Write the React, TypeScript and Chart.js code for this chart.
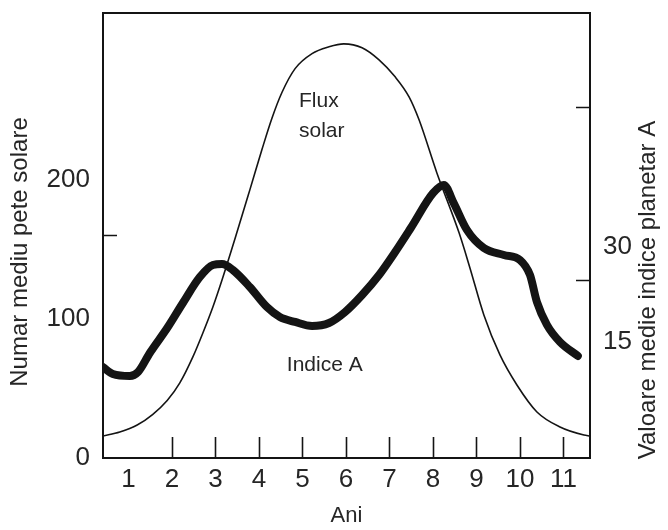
import React, { useEffect, useRef } from "react";
import { Chart, registerables } from "chart.js";

Chart.register(...registerables);

// ---- data ----
const YEAR_TICKS = [1, 2, 3, 4, 5, 6, 7, 8, 9, 10, 11];
const YEAR_MARKS = [2, 3, 4, 5, 6, 7, 8, 9, 10, 11];
const LEFT_TICKS = [0, 100, 200];
const RIGHT_TICKS = [15, 30];
const LEFT_MARKS = [160.6];
const RIGHT_MARKS = [24.8, 52.1];

// Flux solar (thin curve), in left-axis units
const FLUX_YEARS = [0.41, 0.8, 1.2, 1.56, 1.89, 2.18, 2.48, 2.71, 2.94, 3.15, 3.49, 3.79, 4.07, 4.3, 4.53, 4.83, 5.22, 5.61, 5.95, 6.37, 6.76, 7.13, 7.45, 7.68, 8.09, 8.6, 8.85, 9.17, 9.54, 9.93, 10.39, 10.92, 11.47, 11.61];
const FLUX_VALUES = [15.8, 18.7, 23.7, 31.4, 41.3, 54, 72.7, 89.9, 108.6, 128, 161.9, 192.8, 222, 244.5, 263, 280, 290.8, 295.7, 297.8, 295, 286.3, 274.1, 259.7, 243.2, 205, 161.9, 136.7, 102.9, 74.1, 52.5, 33.1, 22.3, 16.5, 15.8];

// Indice A (thick curve), in right-axis units
const INDEX_YEARS = [0.41, 0.64, 1.03, 1.22, 1.49, 1.89, 2.25, 2.64, 2.94, 3.15, 3.4, 3.79, 4.18, 4.48, 4.83, 5.22, 5.61, 5.98, 6.37, 6.76, 7.13, 7.49, 8.0, 8.25, 8.48, 8.78, 9.17, 9.63, 10.0, 10.23, 10.39, 10.62, 10.92, 11.33];
const INDEX_VALUES = [11.05, 9.95, 9.63, 10.26, 13.26, 17.2, 21.16, 25.26, 27.16, 27.32, 26.37, 23.68, 20.53, 18.95, 18.16, 17.53, 18.0, 19.74, 22.42, 25.58, 29.21, 33.0, 38.5, 39.8, 36.9, 32.7, 29.84, 28.74, 27.95, 25.58, 21.3, 17.7, 15.0, 12.8];

const X_TITLE = "Ani";
const LEFT_TITLE = "Numar mediu pete solare";
const RIGHT_TITLE = "Valoare medie indice planetar A";
const NOTES = [
  { text: "Flux", x: 4.92, y: 256.6 },
  { text: "solar", x: 4.92, y: 235 },
  { text: "Indice A", x: 4.64, y: 66.7 },
];

const FONT = '"Liberation Sans", Arial, Helvetica, sans-serif';
const INK = "#141414";
const TEXT = "#262626";

const decorPlugin = {
  id: "decor",
  afterDraw(chart: any) {
    const { ctx, chartArea: a, scales } = chart;
    ctx.save();
    ctx.strokeStyle = INK;
    ctx.lineWidth = 2;
    ctx.strokeRect(a.left, a.top, a.right - a.left, a.bottom - a.top);

    ctx.lineWidth = 1.6;
    ctx.beginPath();
    for (const v of YEAR_MARKS) {
      const x = Math.round(scales.x.getPixelForValue(v)) + 0.5;
      ctx.moveTo(x, a.bottom);
      ctx.lineTo(x, a.bottom - 21);
    }
    for (const v of LEFT_MARKS) {
      const y = Math.round(scales.y.getPixelForValue(v)) + 0.5;
      ctx.moveTo(a.left, y);
      ctx.lineTo(a.left + 14, y);
    }
    for (const v of RIGHT_MARKS) {
      const y = Math.round(scales.y1.getPixelForValue(v)) + 0.5;
      ctx.moveTo(a.right, y);
      ctx.lineTo(a.right - 14, y);
    }
    ctx.stroke();

    ctx.fillStyle = TEXT;
    ctx.font = `21px ${FONT}`;
    ctx.textAlign = "left";
    ctx.textBaseline = "middle";
    for (const n of NOTES) {
      ctx.fillText(n.text, scales.x.getPixelForValue(n.x), scales.y.getPixelForValue(n.y));
    }

    ctx.textAlign = "center";
    ctx.font = `24px ${FONT}`;
    ctx.save();
    ctx.translate(20, 252);
    ctx.rotate(-Math.PI / 2);
    ctx.fillText(LEFT_TITLE, 0, 0);
    ctx.restore();

    ctx.save();
    ctx.translate(648, 290);
    ctx.rotate(-Math.PI / 2);
    ctx.fillText(RIGHT_TITLE, 0, 0);
    ctx.restore();

    ctx.restore();
  },
};

const noPad = (s: any) => {
  s.paddingTop = 0;
  s.paddingBottom = 0;
  s.paddingLeft = 0;
  s.paddingRight = 0;
};

export default function App() {
  const ref = useRef<HTMLCanvasElement | null>(null);

  useEffect(() => {
    if (!ref.current) return;
    const tickFont = { size: 26, family: FONT };
    const chart = new Chart(ref.current, {
      type: "line",
      data: {
        datasets: [
          {
            label: "Flux solar",
            data: FLUX_YEARS.map((x, i) => ({ x, y: FLUX_VALUES[i] })),
            yAxisID: "y",
            borderColor: INK,
            borderWidth: 1.6,
            pointRadius: 0,
            cubicInterpolationMode: "monotone",
            fill: false,
          },
          {
            label: "Indice A",
            data: INDEX_YEARS.map((x, i) => ({ x, y: INDEX_VALUES[i] })),
            yAxisID: "y1",
            borderColor: INK,
            borderWidth: 8,
            borderCapStyle: "round",
            borderJoinStyle: "round",
            pointRadius: 0,
            cubicInterpolationMode: "monotone",
            fill: false,
          },
        ],
      },
      options: {
        animation: false,
        responsive: true,
        maintainAspectRatio: false,
        layout: { padding: { top: 13, left: 0, right: 0, bottom: 0 } },
        plugins: { legend: { display: false }, tooltip: { enabled: false } },
        scales: {
          x: {
            type: "linear",
            min: 0.414,
            max: 11.61,
            afterBuildTicks: (s: any) => {
              s.ticks = YEAR_TICKS.map((v) => ({ value: v }));
            },
            afterFit: (s: any) => {
              s.height = 72;
              noPad(s);
            },
            grid: { display: false, drawTicks: false },
            border: { display: false },
            ticks: { padding: 6, font: tickFont, color: TEXT, maxRotation: 0, autoSkip: false },
            title: {
              display: true,
              text: X_TITLE,
              color: TEXT,
              font: { size: 22, family: FONT },
              padding: { top: 0, bottom: 1 },
            },
          },
          y: {
            type: "linear",
            position: "left",
            min: 0,
            max: 320,
            afterBuildTicks: (s: any) => {
              s.ticks = LEFT_TICKS.map((v) => ({ value: v }));
            },
            afterFit: (s: any) => {
              s.width = 103;
              noPad(s);
            },
            grid: { display: false, drawTicks: false },
            border: { display: false },
            ticks: { padding: 13, font: tickFont, color: TEXT },
          },
          y1: {
            type: "linear",
            position: "right",
            min: -3.32,
            max: 66.95,
            afterBuildTicks: (s: any) => {
              s.ticks = RIGHT_TICKS.map((v) => ({ value: v }));
            },
            afterFit: (s: any) => {
              s.width = 78;
              noPad(s);
            },
            grid: { display: false, drawTicks: false, drawOnChartArea: false },
            border: { display: false },
            ticks: { padding: 13, font: tickFont, color: TEXT },
          },
        },
      },
      plugins: [decorPlugin],
    } as any);
    return () => chart.destroy();
  }, []);

  return (
    <div style={{ position: "fixed", left: 0, top: 0, width: 668, height: 530, background: "#fff" }}>
      <canvas ref={ref} />
    </div>
  );
}
